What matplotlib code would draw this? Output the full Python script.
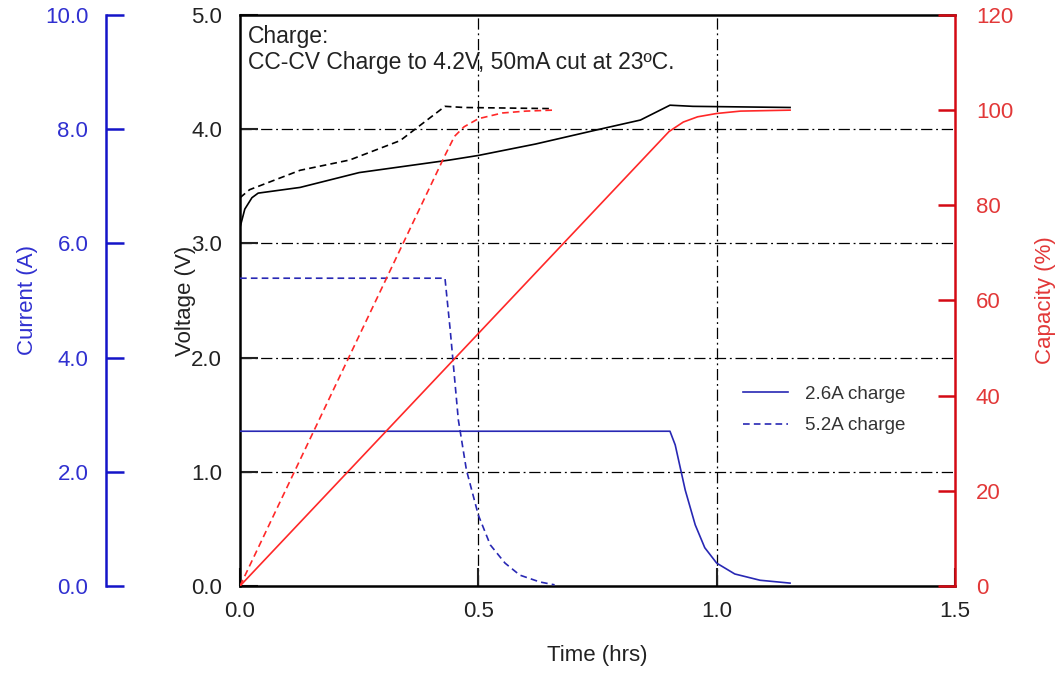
import numpy as np
import matplotlib
matplotlib.use('Agg')
import matplotlib.pyplot as plt
from matplotlib.ticker import FormatStrFormatter

plt.rcParams.update({'font.family': ['Liberation Sans', 'DejaVu Sans'], 'font.size': 16})

BLUE = '#1414C8'; BLUE_TXT = '#3030D0'; LINE_BLUE = '#2828B4'
RED = '#D40A14'; RED_TXT = '#E23838'; LINE_RED = '#FF2828'
DASHDOT = (0, (9, 3, 1.5, 3))

# ---- data ----
# 2.6A charge
t_cur26 = [0.0, 0.902, 0.913, 0.934, 0.955, 0.975, 1.0, 1.038, 1.091, 1.154]
i_cur26 = [2.71, 2.71, 2.47, 1.68, 1.07, 0.67, 0.40, 0.21, 0.10, 0.05]
t_v26 = [0.0, 0.01, 0.025, 0.038, 0.126, 0.25, 0.44, 0.5, 0.62, 0.755, 0.84, 0.902, 0.95, 1.154]
v_v26 = [3.14, 3.30, 3.40, 3.44, 3.49, 3.62, 3.73, 3.77, 3.87, 4.00, 4.08, 4.21, 4.20, 4.19]
t_cap26 = [0.0, 0.9, 0.93, 0.96, 1.0, 1.05, 1.154]
c_cap26 = [0.0, 95.5, 97.5, 98.6, 99.3, 99.8, 100.0]

# 5.2A charge
t_cur52 = [0.0, 0.430, 0.441, 0.458, 0.475, 0.5, 0.525, 0.556, 0.587, 0.629, 0.660]
i_cur52 = [5.39, 5.39, 4.48, 2.91, 2.03, 1.24, 0.72, 0.40, 0.19, 0.07, 0.02]
t_v52 = [0.0, 0.02, 0.126, 0.23, 0.336, 0.43, 0.47, 0.655]
v_v52 = [3.40, 3.47, 3.64, 3.73, 3.90, 4.20, 4.19, 4.18]
t_cap52 = [0.0, 0.43, 0.45, 0.47, 0.5, 0.55, 0.6, 0.655]
c_cap52 = [0.0, 90.5, 94.5, 96.5, 98.2, 99.4, 99.8, 100.0]

fig = plt.figure(figsize=(10.63, 6.75), dpi=100)
ax = fig.add_axes([0.2258, 0.1319, 0.6726, 0.8459])
ax_cur = ax.twinx()
ax_cap = ax.twinx()

# voltage (main axes)
ax.plot(t_v26, v_v26, color='black', lw=1.2, zorder=3)
ax.plot(t_v52, v_v52, color='black', lw=1.2, ls=(0, (4, 2.5)), zorder=3)
ax.set_xlim(0, 1.5); ax.set_ylim(0, 5)
ax.set_xticks([0, 0.5, 1.0, 1.5]); ax.set_yticks([0, 1, 2, 3, 4, 5])
ax.xaxis.set_major_formatter(FormatStrFormatter('%.1f'))
ax.yaxis.set_major_formatter(FormatStrFormatter('%.1f'))
ax.tick_params(axis='y', direction='in', length=13, width=1.5, pad=13, colors='#222222')
ax.tick_params(axis='x', direction='in', length=13, width=1.5, pad=11, colors='#222222')
for s in ['left', 'top', 'bottom']:
    ax.spines[s].set_linewidth(1.8)
ax.spines['right'].set_visible(False)
for yv in [1, 2, 3, 4]:
    ax.axhline(yv, color='black', lw=0.9, ls=DASHDOT, zorder=1)
for xv in [0.5, 1.0]:
    ax.axvline(xv, color='black', lw=0.9, ls=DASHDOT, zorder=1)
ax.set_ylabel('Voltage (V)', color='#222222')
ax.yaxis.set_label_coords(-0.062, 0.5)
ax.set_xlabel('Time (hrs)', color='#222222')
ax.xaxis.set_label_coords(0.5, -0.103)
ax.text(0.011, 0.983, 'Charge:\nCC-CV Charge to 4.2V, 50mA cut at 23ºC.', transform=ax.transAxes,
        ha='left', va='top', fontsize=16.5, color='#222222', linespacing=1.2)

# current (offset left axis)
l1, = ax_cur.plot(t_cur26, i_cur26, color=LINE_BLUE, lw=1.2, label='2.6A charge')
l2, = ax_cur.plot(t_cur52, i_cur52, color=LINE_BLUE, lw=1.2, ls=(0, (4, 2.5)), label='5.2A charge')
ax_cur.set_ylim(0, 10)
ax_cur.set_yticks([0, 2, 4, 6, 8, 10])
ax_cur.yaxis.set_major_formatter(FormatStrFormatter('%.1f'))
ax_cur.yaxis.set_ticks_position('left'); ax_cur.yaxis.set_label_position('left')
ax_cur.spines['left'].set_position(('axes', -0.187))
ax_cur.spines['left'].set_visible(True)
ax_cur.spines['left'].set_color(BLUE); ax_cur.spines['left'].set_linewidth(1.8)
for s in ['right', 'top', 'bottom']:
    ax_cur.spines[s].set_visible(False)
ax_cur.tick_params(axis='y', direction='in', length=13, width=1.8, color=BLUE,
                   labelcolor=BLUE_TXT, pad=13)
ax_cur.set_ylabel('Current (A)', color=BLUE_TXT)
ax_cur.yaxis.set_label_coords(-0.2825, 0.5)
ax_cur.legend(handles=[l1, l2], loc='upper left', bbox_to_anchor=(0.68, 0.38), frameon=False,
              fontsize=13.5, handlelength=2.4, handletextpad=0.9, labelspacing=0.75,
              labelcolor='#333333')

# capacity (right axis)
ax_cap.plot(t_cap26, c_cap26, color=LINE_RED, lw=1.2)
ax_cap.plot(t_cap52, c_cap52, color=LINE_RED, lw=1.2, ls=(0, (4, 2.5)))
ax_cap.set_ylim(0, 120)
ax_cap.set_yticks([0, 20, 40, 60, 80, 100, 120])
for s in ['left', 'top', 'bottom']:
    ax_cap.spines[s].set_visible(False)
ax_cap.spines['right'].set_color(RED); ax_cap.spines['right'].set_linewidth(1.8)
ax_cap.tick_params(axis='y', direction='in', length=12, width=1.8, color=RED,
                   labelcolor=RED_TXT, pad=15)
ax_cap.set_ylabel('Capacity (%)', color=RED_TXT)
ax_cap.yaxis.set_label_coords(1.112, 0.5)

fig.savefig('out.png', dpi=100)
